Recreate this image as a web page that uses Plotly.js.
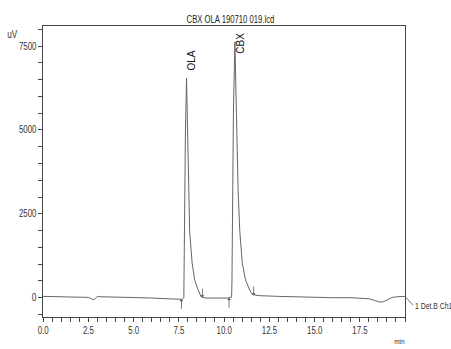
<!DOCTYPE html>
<html><head><meta charset="utf-8">
<script src="https://cdn.plot.ly/plotly-3.0.1.min.js"></script>
<style>html,body{margin:0;padding:0;background:#fff}#c{width:451px;height:349px}</style>
</head><body><div id="c"></div>
<script>
const chartTitle = "CBX OLA 190710 019.lcd";
const timeMin = [0,0.5,1.0,1.5,2.0,2.5,2.7,2.8,2.9,3.0,3.1,3.5,4.0,5.0,6.0,7.0,7.5,7.7,7.78,7.8,7.83,7.87,7.93,7.96,8.02,8.05,8.1,8.24,8.38,8.57,8.75,9.0,9.5,10.0,10.2,10.42,10.44,10.47,10.52,10.6,10.63,10.7,10.78,10.87,11.01,11.19,11.42,11.58,12.0,13.0,14.0,15.0,16.0,17.0,17.5,18.0,18.3,18.6,18.8,19.0,19.3,19.6,20.0];
const signalUV = [40,35,30,25,20,10,-40,-60,-20,40,30,20,15,5,-10,-40,-55,-50,0,2000,3500,5000,6550,5800,4000,3200,2000,1030,530,230,20,-10,-20,-10,-10,20,500,3000,5500,7630,6800,4500,3200,2000,1030,530,230,90,60,40,20,10,0,0,-10,-30,-80,-130,-120,-60,10,30,40];
const peakNames = ["OLA","CBX"];
const peakTimes = [7.93,10.6];
const peakHeights = [6550,7630];
const peakStarts = [7.65,10.28];
const peakEnds = [8.81,11.64];
const startLevels = [-45,-10];
const endLevels = [15,80];
const xTickVals = [0,2.5,5,7.5,10,12.5,15,17.5];
const xTickText = ["0.0","2.5","5.0","7.5","10.0","12.5","15.0","17.5"];
const yTickVals = [0,2500,5000,7500];
const yTickText = ["0","2500","5000","7500"];
const channelLabel = "1 Det.B Ch1";

const F = "'Liberation Sans',Arial,sans-serif";
const ann = [];
peakNames.forEach((n,i)=>{
  ann.push({x:peakTimes[i],y:peakHeights[i],text:n,showarrow:false,textangle:-90,
    xshift:(i===0?5:6),yshift:(i===0?17:-1),font:{family:F,size:10,color:"#111"}});
});
peakStarts.forEach((t,i)=>{
  ann.push({x:t,y:startLevels[i],ax:0,ay:11,showarrow:true,arrowhead:1,arrowsize:0.8,arrowwidth:0.8,arrowcolor:"#555",text:""});
});
peakEnds.forEach((t,i)=>{
  ann.push({x:t,y:endLevels[i],ax:0,ay:-10,showarrow:true,arrowhead:1,arrowsize:0.8,arrowwidth:0.8,arrowcolor:"#555",text:""});
});
ann.push({x:timeMin[timeMin.length-1],y:signalUV[signalUV.length-1],ax:8,ay:9,showarrow:true,arrowhead:0,arrowwidth:0.8,arrowcolor:"#555",
  text:channelLabel,xanchor:"left",font:{family:F,size:9.5,color:"#333"}});
ann.push({xref:"paper",yref:"paper",x:-0.083,y:0.97,xanchor:"center",yanchor:"middle",text:"uV",showarrow:false,font:{family:F,size:10,color:"#333"}});
ann.push({xref:"paper",yref:"paper",x:0.985,y:-0.085,xanchor:"center",yanchor:"middle",text:"min",showarrow:false,font:{family:F,size:8,color:"#333"}});

Plotly.newPlot("c",[{x:timeMin,y:signalUV,type:"scatter",mode:"lines",line:{color:"#666",width:1},hoverinfo:"skip"}],{
  width:451,height:349,margin:{l:43,r:46,t:26,b:32},
  paper_bgcolor:"#fff",plot_bgcolor:"#fff",showlegend:false,
  title:{text:chartTitle,x:0.518,xref:"paper",xanchor:"center",y:1,yref:"container",yanchor:"top",pad:{t:16},font:{family:F,size:10,color:"#222"}},
  xaxis:{range:[0,20],showgrid:false,zeroline:false,showline:true,linecolor:"#444",linewidth:1,mirror:true,
    ticks:"outside",ticklen:4,tickcolor:"#444",tickvals:xTickVals,ticktext:xTickText,
    minor:{dtick:0.5,ticks:"outside",ticklen:4,tickcolor:"#444",showgrid:false},
    tickfont:{family:F,size:10,color:"#333"}},
  yaxis:{range:[-575,8100],showgrid:false,zeroline:false,showline:true,linecolor:"#444",linewidth:1,mirror:true,
    ticks:"outside",ticklen:4,tickcolor:"#444",tickvals:yTickVals,ticktext:yTickText,
    minor:{dtick:500,ticks:"outside",ticklen:4,tickcolor:"#444",showgrid:false},
    tickfont:{family:F,size:10,color:"#333"}},
  annotations:ann
},{displayModeBar:false,staticPlot:true}).then(gd=>{
  // emulate the narrow typeface of the original: compress glyphs horizontally, keeping each text's anchor point
  const narrow = (t,k,anchor)=>{
    const bb = t.getBBox();
    if(bb.width<=0) return;
    const w = bb.width*k;
    let x0;
    if(anchor==='start') x0 = bb.x;
    else if(anchor==='end') x0 = bb.x+bb.width-w;
    else x0 = bb.x+(bb.width-w)/2;
    t.setAttribute('text-anchor','start');
    t.setAttribute('x',x0.toFixed(1));
    t.setAttribute('textLength',w.toFixed(1));
    t.setAttribute('lengthAdjust','spacingAndGlyphs');
  };
  gd.querySelectorAll('.xtick text').forEach(t=>narrow(t,0.77,'middle'));
  gd.querySelectorAll('.ytick text').forEach(t=>narrow(t,0.77,'end'));
  gd.querySelectorAll('.gtitle').forEach(t=>narrow(t,0.77,'middle'));
  gd.querySelectorAll('text.annotation-text').forEach(t=>{
    const s=t.textContent;
    if(s===channelLabel) narrow(t,0.72,'start');
    else if(s==='uV'||s==='min') narrow(t,0.8,'middle');
  });
});
</script></body></html>
